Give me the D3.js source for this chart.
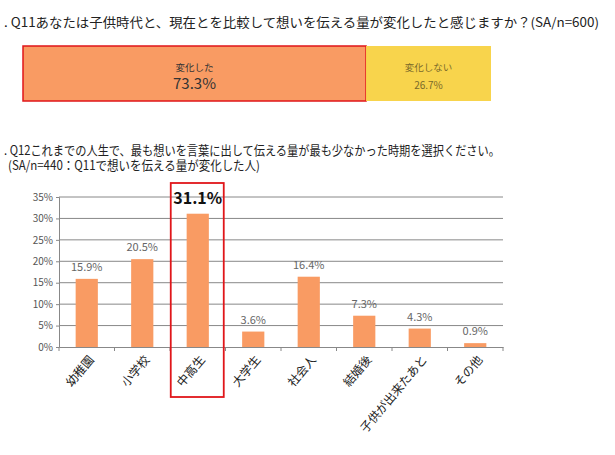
<!DOCTYPE html>
<html><head><meta charset="utf-8">
<script src="https://cdn.jsdelivr.net/npm/d3@7"></script>
<style>body{margin:0;background:#fff;font-family:"Noto Sans CJK JP",sans-serif}</style>
</head><body><svg id="c" width="615" height="455"></svg>
<script>
'use strict';
// ── データ ──
const q11Labels = ['変化した', '変化しない'];
const q11Values = [73.3, 26.7];
const categories = ['幼稚園', '小学校', '中高生', '大学生', '社会人', '結婚後', '子供が出来たあと', 'その他'];
const values = [15.9, 20.5, 31.1, 3.6, 16.4, 7.3, 4.3, 0.9];
const yTicks = [0, 5, 10, 15, 20, 25, 30, 35];
const highlight = '中高生';

const svg = d3.select('#c');
const font = '"Noto Sans CJK JP", sans-serif';
const ORANGE = '#F99B63', YELLOW = '#F8D44C', RED = '#E0161A';

function text(x, y, s, size, opts = {}) {
  return svg.append('text').attr('x', x).attr('y', y).attr('font-size', size)
    .attr('font-family', font).attr('fill', opts.fill || '#222')
    .attr('text-anchor', opts.anchor || 'start').text(s);
}

text(4, 27, '. Q11あなたは子供時代と、現在とを比較して想いを伝える量が変化したと感じますか？(SA/n=600)', 12.8)
  .attr('textLength', 595).attr('lengthAdjust', 'spacingAndGlyphs');

// ── Q11 積み上げ帯 ──
const xs = d3.scaleLinear().domain([0, 100]).range([23, 491]);
let acc = 0;
q11Values.forEach((v, i) => {
  const x0 = xs(acc), x1 = xs(acc + v);
  acc += v;
  svg.append('rect').attr('x', x0).attr('y', 46).attr('width', x1 - x0).attr('height', 55)
    .attr('fill', i === 0 ? ORANGE : YELLOW)
    .attr('stroke', i === 0 ? RED : 'none').attr('stroke-width', 1.5);
  const cx = (x0 + x1) / 2;
  text(cx, 71, q11Labels[i], 9.5, { anchor: 'middle', fill: i === 0 ? '#333' : '#7a6a2a' });
  text(cx, 89, v.toFixed(1) + '%', i === 0 ? 15 : 10, { anchor: 'middle', fill: i === 0 ? '#333' : '#7a6a2a' });
});

text(4, 155, '. Q12これまでの人生で、最も想いを言葉に出して伝える量が最も少なかった時期を選択ください。', 12.8)
  .attr('textLength', 496).attr('lengthAdjust', 'spacingAndGlyphs');
text(8, 170, '(SA/n=440：Q11で想いを伝える量が変化した人)', 12.8)
  .attr('textLength', 252).attr('lengthAdjust', 'spacingAndGlyphs');

// ── Q12 棒グラフ ──
const x = d3.scaleBand().domain(categories).range([59, 503]).paddingInner(0.6).paddingOuter(0.3);
const y = d3.scaleLinear().domain([0, 35]).range([347, 197]);

svg.append('g').selectAll('line').data(yTicks.slice(1)).join('line')
  .attr('x1', 59).attr('x2', 503).attr('y1', d => y(d)).attr('y2', d => y(d))
  .attr('stroke', '#888').attr('stroke-width', 1);

const ya = svg.append('g').attr('transform', 'translate(59,0)')
  .call(d3.axisLeft(y).tickValues(yTicks).tickFormat(d => d + '%').tickSize(3));
ya.select('.domain').attr('stroke', '#888');
ya.selectAll('line').attr('stroke', '#888');
ya.selectAll('text').attr('font-size', 10).attr('fill', '#555').attr('font-family', font);

const xa = svg.append('g').attr('transform', 'translate(0,347)')
  .call(d3.axisBottom(x).tickSize(0).tickFormat(''));
xa.select('.domain').attr('stroke', '#888');
svg.append('g').selectAll('line').data(d3.range(categories.length + 1)).join('line')
  .attr('x1', i => 59 + i * 444 / 8).attr('x2', i => 59 + i * 444 / 8)
  .attr('y1', 347).attr('y2', 351).attr('stroke', '#888');

svg.append('g').selectAll('rect').data(categories).join('rect')
  .attr('x', d => x(d)).attr('width', x.bandwidth())
  .attr('y', (d, i) => y(values[i])).attr('height', (d, i) => 347 - y(values[i]))
  .attr('fill', ORANGE);

categories.forEach((c, i) => {
  const cx = x(c) + x.bandwidth() / 2;
  const hl = c === highlight;
  text(cx, y(values[i]) - (hl ? 10 : 8), values[i].toFixed(1) + '%', hl ? 16 : 11,
    { anchor: 'middle', fill: hl ? '#111' : '#666' }).attr('font-weight', hl ? 'bold' : 'normal');
  svg.append('text').attr('font-size', 12).attr('font-family', font).attr('fill', '#222')
    .attr('text-anchor', 'end')
    .attr('transform', `translate(${cx + 8},${360}) rotate(-50)`).text(c);
});

// 強調枠
const hx = x(highlight) + x.bandwidth() / 2;
svg.append('rect').attr('x', hx - 27).attr('y', 183).attr('width', 53).attr('height', 214)
  .attr('fill', 'none').attr('stroke', RED).attr('stroke-width', 1.8);
</script></body></html>
